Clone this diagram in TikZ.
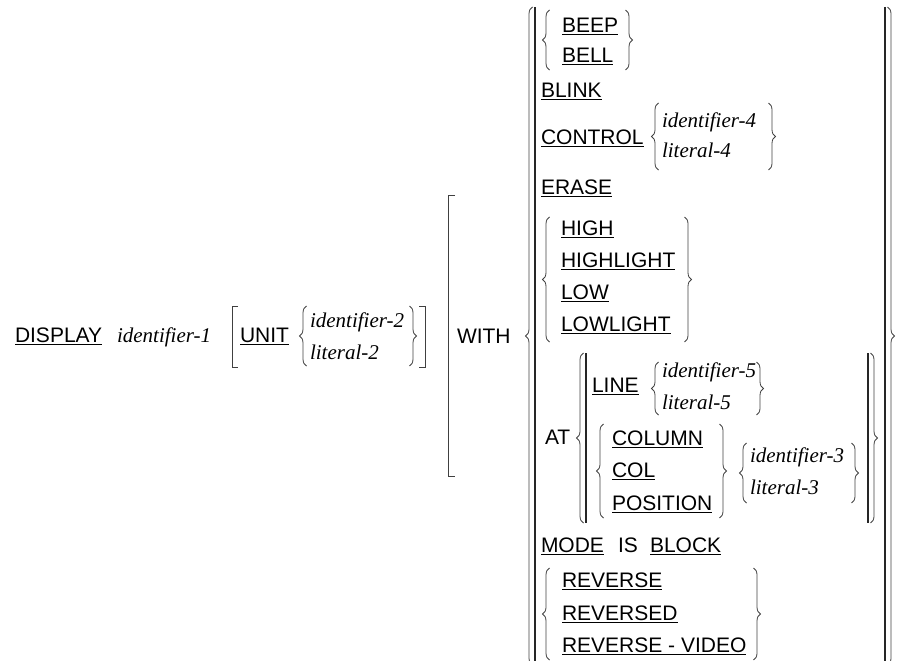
\documentclass[tikz,border=0pt]{standalone}
\usepackage{fontspec}
\setmainfont{Liberation Sans}
\newfontfamily\tms{Liberation Serif}
\usetikzlibrary{decorations.pathreplacing}
\newcommand{\kw}[1]{\underline{#1}}
\newcommand{\idf}[1]{{\tms\itshape #1}}
% left brace: body x, top, bottom
\newcommand{\LB}[3]{\draw[cbrace] (#1+3.5,#3) -- (#1+3.5,#2);}
% right brace: body x, top, bottom
\newcommand{\RB}[3]{\draw[cbrace] (#1-3.5,#2) -- (#1-3.5,#3);}
\begin{document}
\begin{tikzpicture}[x=1pt,y=-1pt,
  txt/.style={anchor=base west, inner sep=0pt, outer sep=0pt, font=\fontsize{21}{25}\selectfont},
  cbrace/.style={decorate, decoration={brace, amplitude=7pt}, line width=0.8pt, draw=black!75},
  vbar/.style={line width=1.1pt, draw=black!85},
  brk/.style={line width=0.8pt, draw=black!75},
]
\useasboundingbox (0,0) rectangle (916,661);
\clip (0,0) rectangle (916,661);

% texts
\node[txt] (display) at (15,342.5) {\kw{DISPLAY}};
\node[txt] (id1) at (117,342) {\idf{identifier-1}};
\node[txt] (unit) at (240,342.5) {\kw{UNIT}};
\node[txt] (id2) at (310,327) {\idf{identifier-2}};
\node[txt] (lit2) at (310,359) {\idf{literal-2}};
\node[txt] (with) at (457,343.5) {WITH};
\node[txt] (beep) at (562,32.5) {\kw{BEEP}};
\node[txt] (bell) at (562,63) {\kw{BELL}};
\node[txt] (blink) at (541,97.5) {\kw{BLINK}};
\node[txt] (control) at (541,144.5) {\kw{CONTROL}};
\node[txt] (id4) at (662,127) {\idf{identifier-4}};
\node[txt] (lit4) at (662,157) {\idf{literal-4}};
\node[txt] (erase) at (541,194.5) {\kw{ERASE}};
\node[txt] (high) at (561,235.5) {\kw{HIGH}};
\node[txt] (highlight) at (561,267.5) {\kw{HIGHLIGHT}};
\node[txt] (low) at (561,299.5) {\kw{LOW}};
\node[txt] (lowlight) at (561,331.5) {\kw{LOWLIGHT}};
\node[txt] (at) at (545,444.5) {AT};
\node[txt] (line) at (592,392.5) {\kw{LINE}};
\node[txt] (id5) at (662,377) {\idf{identifier-5}};
\node[txt] (lit5) at (662,409) {\idf{literal-5}};
\node[txt] (column) at (612,445.5) {\kw{COLUMN}};
\node[txt] (col) at (612,477.5) {\kw{COL}};
\node[txt] (position) at (612,510.5) {\kw{POSITION}};
\node[txt] (id3) at (750,462) {\idf{identifier-3}};
\node[txt] (lit3) at (750,494) {\idf{literal-3}};
\node[txt] (mode) at (541,552.5) {\kw{MODE}};
\node[txt] (is) at (618,552.5) {IS};
\node[txt] (block) at (650,552.5) {\kw{BLOCK}};
\node[txt] (reverse) at (562,587.5) {\kw{REVERSE}};
\node[txt] (reversed) at (562,620.5) {\kw{REVERSED}};
\node[txt] (revvideo) at (562,652.5) {\kw{REVERSE - VIDEO}};

% UNIT brackets
\draw[brk] (238,306) -- (232,306) -- (232,367) -- (238,367);
\draw[brk] (419,306) -- (425,306) -- (425,367) -- (419,367);
\LB{303}{306}{366}
\RB{413}{306}{366}
% WITH bracket
\draw[brk] (455,195) -- (448,195) -- (448,476) -- (455,476);
% outer delimiters
\LB{529}{7}{665}
\draw[vbar] (535,7) -- (535,665);
\draw[vbar] (885,7) -- (885,665);
\RB{891}{7}{665}
% inner braces
\LB{546}{10}{70}
\RB{629}{10}{70}
\LB{655}{103}{170}
\RB{772}{103}{170}
\LB{546}{217}{342}
\RB{688}{217}{342}
% AT group
\LB{580}{353}{523}
\draw[vbar] (586,353) -- (586,523);
\draw[vbar] (868,353) -- (868,523);
\RB{874}{353}{523}
\LB{655}{362}{415}
\RB{760}{362}{415}
\LB{600}{424}{518}
\RB{723}{424}{518}
\LB{743}{443}{503}
\RB{855}{443}{503}
% REVERSE
\LB{546}{568}{660}
\RB{757}{568}{660}
\end{tikzpicture}
\end{document}
